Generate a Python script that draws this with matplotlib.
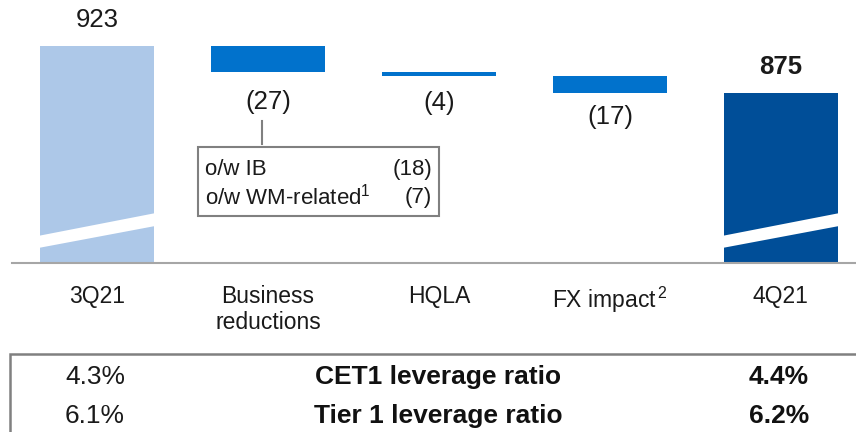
import matplotlib
matplotlib.use("Agg")
import matplotlib.pyplot as plt
from matplotlib.patches import Rectangle, Polygon
import matplotlib.transforms as mtransforms
import numpy as np

plt.rcParams['font.family'] = ['Liberation Sans', 'DejaVu Sans']
plt.rcParams['mathtext.fontset'] = 'custom'
plt.rcParams['mathtext.rm'] = 'Liberation Sans'
plt.rcParams['mathtext.it'] = 'Liberation Sans'

# ---- data ----
categories = ["3Q21", "Business\nreductions", "HQLA", "FX impact$^{\\,2}$", "4Q21"]
start_value = 923
deltas = [-27, -4, -17]
end_value = 875
value_labels = ["923", "(27)", "(4)", "(17)", "875"]
callout_names = ["o/w IB", "o/w WM-related$^{1}$"]
callout_values = ["(18)", "(7)"]
ratio_names = ["CET1 leverage ratio", "Tier 1 leverage ratio"]
ratio_3q = ["4.3%", "6.1%"]
ratio_4q = ["4.4%", "6.2%"]

c_light = "#adc8e8"
c_mid = "#0172cc"
c_dark = "#004e98"
c_grey = "#a6a6a6"

W, H = 856, 432
fig = plt.figure(figsize=(W / 100, H / 100), dpi=100)
# axes: x from px 12 to 856, y from px 0 to 263
ax = fig.add_axes([12 / W, (H - 263) / H, (W - 12) / W, 263 / H])
ax.set_xlim(-0.497, 4.439)
ax.set_ylim(701.4, 970)

x = np.arange(len(categories))
bw = 0.667

# waterfall geometry
running = start_value
bottoms, heights, colors = [], [], []
ymin = ax.get_ylim()[0]
bottoms.append(ymin); heights.append(start_value - ymin); colors.append(c_light)
for d in deltas:
    new = running + d
    bottoms.append(min(running, new)); heights.append(abs(d)); colors.append(c_mid)
    running = new
bottoms.append(ymin); heights.append(end_value - ymin); colors.append(c_dark)

ax.bar(x, heights, bottom=bottoms, width=bw, color=colors, linewidth=0, zorder=2)

# axis break bands on first and last bars
trans = mtransforms.blended_transform_factory(ax.transData, ax.transAxes)
for i in (0, len(categories) - 1):
    l, r = x[i] - bw / 2 - 0.01, x[i] + bw / 2 + 0.01
    poly = Polygon([(l, 0.057), (r, 0.141), (r, 0.190), (l, 0.103)],
                   closed=True, transform=trans, facecolor="white",
                   edgecolor="none", zorder=3)
    ax.add_patch(poly)

# value labels
tops = [start_value] + [b for b in bottoms[1:-1]] + [end_value]
for i, lab in enumerate(value_labels):
    if i == 0 or i == len(value_labels) - 1:
        ax.annotate(lab, (x[i], tops[i]), xytext=(0, 19), textcoords="offset points",
                    ha="center", va="center", fontsize=18.5,
                    fontweight="bold" if i == len(value_labels) - 1 else "normal",
                    color="#1a1a1a")
    else:
        off = [-21.5, -19, -17.5][i - 1]
        ax.annotate(lab, (x[i], bottoms[i]), xytext=(0, off), textcoords="offset points",
                    ha="center", va="center", fontsize=18.5, color="#1a1a1a")

# callout
ax.plot([0.965, 0.965], [846.4, 822.9], color="#808080", lw=1.5, zorder=4)
ax.add_patch(Rectangle((0.591, 749.4), 2.0 - 0.591, 819.8 - 749.4, facecolor="white",
                       edgecolor="#808080", lw=1.5, zorder=4))
for j, (nm, vv) in enumerate(zip(callout_names, callout_values)):
    yy = [797.4, 768.8][j]
    ax.text(0.632, yy, nm, ha="left", va="center", fontsize=16, color="#1a1a1a", zorder=5)
    ax.text(1.959, yy, vv, ha="right", va="center", fontsize=16, color="#1a1a1a", zorder=5)

# axes styling
for s in ("top", "right", "left"):
    ax.spines[s].set_visible(False)
ax.spines["bottom"].set_color(c_grey)
ax.spines["bottom"].set_linewidth(1.5)
ax.spines["bottom"].set_zorder(4)
ax.set_yticks([])
ax.set_xticks(x)
ax.set_xticklabels(categories, fontsize=16.5, color="#1a1a1a", linespacing=1.15)
ax.tick_params(axis="x", length=0, pad=16)

# ratio table
tb = Rectangle((10 / W, -0.1), 1.0, (H - 354) / H + 0.1, transform=fig.transFigure,
               facecolor="none", edgecolor="#808080", lw=1.8, clip_on=False)
fig.patches.append(tb)
for j in range(len(ratio_names)):
    yy = (H - [377, 416][j]) / H
    fig.text(95 / W, yy, ratio_3q[j], ha="center", va="center", fontsize=19, color="#1a1a1a")
    fig.text(438 / W, yy, ratio_names[j], ha="center", va="center", fontsize=19,
             fontweight="bold", color="#111111")
    fig.text(779 / W, yy, ratio_4q[j], ha="center", va="center", fontsize=19,
             fontweight="bold", color="#111111")

fig.savefig("out.png", dpi=100)
